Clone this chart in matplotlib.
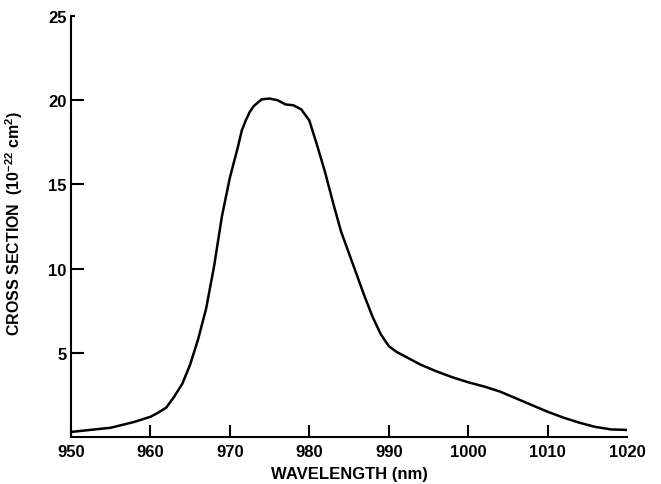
import matplotlib.pyplot as plt

plt.rcParams['font.family'] = ['Liberation Sans', 'DejaVu Sans']
plt.rcParams['font.weight'] = 'bold'
plt.rcParams['mathtext.fontset'] = 'custom'
plt.rcParams['mathtext.rm'] = 'Liberation Sans:bold'
plt.rcParams['mathtext.bf'] = 'Liberation Sans:bold'

# absorption cross section
wavelength = [950, 952, 955, 958, 960, 961, 962, 963, 964, 965, 966, 967, 968, 969,
              970, 971, 971.5, 972, 972.5, 973, 974, 975, 976, 977, 978, 979, 980,
              981, 982, 983, 984, 985, 986, 987, 988, 989, 990, 991, 992, 994, 996,
              998, 1000, 1002, 1004, 1006, 1008, 1010, 1012, 1014, 1016, 1018, 1020]
cross_section = [0.3, 0.4, 0.55, 0.9, 1.2, 1.45, 1.75, 2.4, 3.15, 4.3, 5.8, 7.6, 10.1, 13.1,
                 15.4, 17.2, 18.2, 18.8, 19.3, 19.65, 20.05, 20.1, 20.0, 19.75, 19.7,
                 19.45, 18.8, 17.3, 15.7, 13.9, 12.2, 10.9, 9.6, 8.3, 7.1, 6.1, 5.4,
                 5.05, 4.8, 4.3, 3.9, 3.55, 3.25, 3.0, 2.7, 2.3, 1.9, 1.5, 1.15, 0.85,
                 0.6, 0.45, 0.42]

x_ticks = [950, 960, 970, 980, 990, 1000, 1010, 1020]
y_ticks = [5, 10, 15, 20, 25]

fig = plt.figure(figsize=(6.61, 4.85), dpi=100)
ax = fig.add_axes([0.1074, 0.0969, 0.8412, 0.868])
ax.plot(wavelength, cross_section, color='black', lw=1.8)

ax.set_xlim(950, 1020)
ax.set_ylim(0, 25)
ax.set_xticks(x_ticks)
ax.set_yticks(y_ticks)
ax.spines['top'].set_visible(False)
ax.spines['right'].set_visible(False)
ax.spines['left'].set_linewidth(1.5)
ax.spines['bottom'].set_linewidth(1.5)
ax.tick_params(direction='in', length=9, width=1.5, labelsize=12, pad=5)
ax.tick_params(axis='y', pad=3)
ax.yaxis.get_major_ticks()[-1].tick1line.set_markersize(3)
ax.xaxis.get_major_ticks()[-1].tick1line.set_markersize(0)

ax.set_xlabel('WAVELENGTH (nm)', fontsize=12, fontweight='bold')
ax.set_ylabel(r'CROSS SECTION  (10$^{-22}$ cm$^{2}$)', fontsize=11.5, fontweight='bold')
ax.xaxis.set_label_coords(0.50, -0.068)
ax.yaxis.set_label_coords(-0.083, 0.51)

fig.savefig('out.png', dpi=100)
